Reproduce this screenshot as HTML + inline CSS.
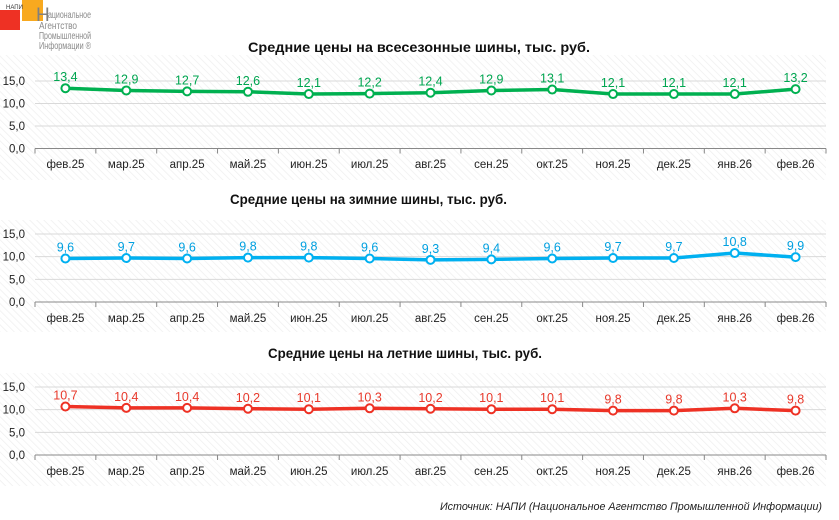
<!DOCTYPE html>
<html><head><meta charset="utf-8"><style>
body{margin:0;background:#fff;}
svg{display:block;font-family:"Liberation Sans",Arial,sans-serif;}
</style></head><body>
<svg id="s" width="839" height="520" viewBox="0 0 839 520" xmlns="http://www.w3.org/2000/svg">
<defs>
<pattern id="h" width="5" height="5" patternUnits="userSpaceOnUse" patternTransform="rotate(-45)">
<rect width="5" height="5" fill="#fff"/><line x1="0" y1="0" x2="0" y2="5" stroke="#efefef" stroke-width="1.5"/>
</pattern>
</defs>
<rect x="0" y="10" width="20" height="20" fill="#ee3124"/>
<rect x="22" y="0" width="21" height="21" fill="#f8a91f"/>
<text x="6" y="9" font-size="6" fill="#333">НАПИ</text>
<text x="36" y="21" font-size="19" fill="#808080">Н</text>
<text x="48" y="18" font-size="10" fill="#8a8a8a" textLength="43" lengthAdjust="spacingAndGlyphs">ациональное</text>
<text x="39" y="29" font-size="10" fill="#8a8a8a" textLength="38" lengthAdjust="spacingAndGlyphs">Агентство</text>
<text x="39" y="39" font-size="10" fill="#8a8a8a" textLength="52" lengthAdjust="spacingAndGlyphs">Промышленной</text>
<text x="39" y="49" font-size="10" fill="#8a8a8a" textLength="52" lengthAdjust="spacingAndGlyphs">Информации ®</text>
<text x="822" y="510" font-size="11" font-style="italic" text-anchor="end" fill="#222" textLength="382" lengthAdjust="spacingAndGlyphs">Источник: НАПИ (Национальное Агентство Промышленной Информации)</text>
</svg>
<script>
const s=document.getElementById('s');const NS='http://www.w3.org/2000/svg';
function el(t,a,txt){const e=document.createElementNS(NS,t);for(const k in a)e.setAttribute(k,a[k]);if(txt!=null)e.textContent=txt;s.appendChild(e);return e;}
const cats=['фев.25','мар.25','апр.25','май.25','июн.25','июл.25','авг.25','сен.25','окт.25','ноя.25','дек.25','янв.26','фев.26'];
const P=[
{ht:55,hb:180,y15:81,y0:148.5,xl:168,tb:52,tx:248,tw:342,title:'Средние цены на всесезонные шины, тыс. руб.',c:'#00b050',lc:'#00a550',d:[13.4,12.9,12.7,12.6,12.1,12.2,12.4,12.9,13.1,12.1,12.1,12.1,13.2]},
{ht:220,hb:332,y15:234,y0:302,xl:322,tb:204,tx:230,tw:277,title:'Средние цены на зимние шины, тыс. руб.',c:'#00b0f0',lc:'#00a0e0',d:[9.6,9.7,9.6,9.8,9.8,9.6,9.3,9.4,9.6,9.7,9.7,10.8,9.9]},
{ht:373,hb:486,y15:387,y0:455,xl:475,tb:358,tx:268,tw:274,title:'Средние цены на летние шины, тыс. руб.',c:'#ee3124',lc:'#e8392b',d:[10.7,10.4,10.4,10.2,10.1,10.3,10.2,10.1,10.1,9.8,9.8,10.3,9.8]}];
const x0=35,x1=826,bw=(x1-x0)/13;
P.forEach(p=>{
 el('rect',{x:0,y:p.ht,width:826,height:p.hb-p.ht,fill:'url(#h)'});
 el('text',{x:p.tx,y:p.tb,'font-size':14,'font-weight':'bold',fill:'#111',textLength:p.tw,lengthAdjust:'spacingAndGlyphs'},p.title);
 const k=(p.y0-p.y15)/15;
 [0,5,10,15].forEach(v=>{const y=p.y0-v*k;
  if(v>0)el('line',{x1:x0,x2:x1,y1:y,y2:y,stroke:'#d9d9d9','stroke-width':1});
  el('text',{x:25,y:y+4,'font-size':11.5,'text-anchor':'end',fill:'#222'},(v.toFixed(1)).replace('.',','));});
 el('line',{x1:x0,x2:x1,y1:p.y0,y2:p.y0,stroke:'#888','stroke-width':1});
 for(let i=0;i<=13;i++)el('line',{x1:x0+i*bw,x2:x0+i*bw,y1:p.y0,y2:p.y0+5,stroke:'#888','stroke-width':1});
 cats.forEach((c,i)=>el('text',{x:x0+(i+.5)*bw,y:p.xl,'font-size':11.5,'text-anchor':'middle',fill:'#222'},c));
 const pts=p.d.map((v,i)=>[x0+(i+.5)*bw,p.y0-v*k]);
 el('polyline',{points:pts.map(q=>q.join(',')).join(' '),fill:'none',stroke:p.c,'stroke-width':3.5,'stroke-linejoin':'round'});
 pts.forEach((q,i)=>{el('circle',{cx:q[0],cy:q[1],r:4,fill:'#fff',stroke:p.c,'stroke-width':2});
  el('text',{x:q[0],y:q[1]-7,'font-size':12.5,'text-anchor':'middle',fill:p.lc},p.d[i].toFixed(1).replace('.',','));});
});
</script>
</body></html>
